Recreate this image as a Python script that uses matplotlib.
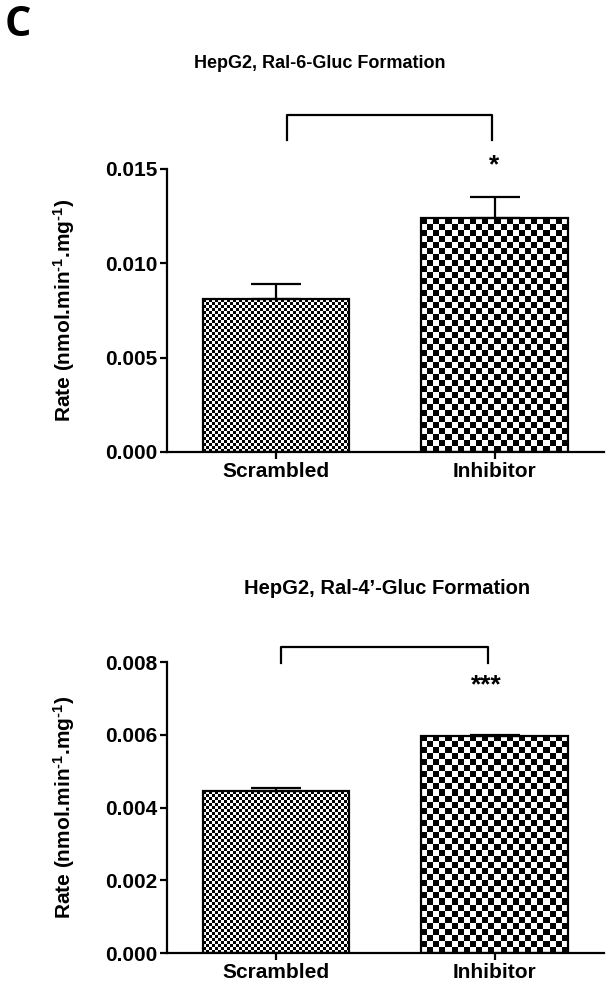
import numpy as np
import matplotlib
matplotlib.use('Agg')
import matplotlib.pyplot as plt

plt.rcParams['font.family'] = ['Liberation Sans', 'DejaVu Sans']
plt.rcParams['font.weight'] = 'bold'
plt.rcParams['mathtext.fontset'] = 'custom'
plt.rcParams['mathtext.rm'] = 'Liberation Sans:bold'
plt.rcParams['mathtext.bf'] = 'Liberation Sans:bold'
plt.rcParams['mathtext.default'] = 'bf'

# data
groups = ['Scrambled', 'Inhibitor']
rate6 = [0.0081, 0.0124]
err6 = [0.0008, 0.0011]
rate4 = [0.00445, 0.00597]
err4 = [0.00008, 0.00002]
titles = ['HepG2, Ral-6-Gluc Formation', 'HepG2, Ral-4\u2019-Gluc Formation']
stars = ['*', '***']
star_x = [1.0, 0.96]
star_y = [0.0152, 0.00735]
bracket_x = [[0.05, 0.05, 0.99, 0.99], [0.02, 0.02, 0.97, 0.97]]
bracket_y = [[0.01654, 0.01786, 0.01786, 0.01654], [0.00797, 0.00841, 0.00841, 0.00797]]
yticks = [[0, 0.005, 0.010, 0.015], [0, 0.002, 0.004, 0.006, 0.008]]
ylims = [0.015, 0.008]
ylabel = 'Rate (nmol.min$^{\u20101}$.mg$^{\u20101}$)'

DPI = 100
fig = plt.figure(figsize=(6.1, 9.92), dpi=DPI)
ax_top = fig.add_axes([0.2738, 0.5444, 0.716, 0.2853])
ax_bot = fig.add_axes([0.2738, 0.0393, 0.716, 0.2933])

width = 0.67
cells = [3, 6]  # checker cell size in px for each bar


def checker_bar(ax, x, h, cell, ymax):
    bar = ax.bar(x, h, width, facecolor='none', edgecolor='black', lw=1.6, zorder=3)[0]
    box = ax.get_position()
    px_w = box.width * fig.get_figwidth() * DPI / 2.0 * width
    px_h = box.height * fig.get_figheight() * DPI / ymax * h
    nx = max(1, int(round(px_w / cell)))
    ny = max(1, int(round(px_h / cell)))
    board = np.add.outer(np.arange(ny), np.arange(nx)) % 2
    im = ax.imshow(board, cmap='gray', extent=(x - width / 2, x + width / 2, 0, h),
                   aspect='auto', interpolation='nearest', zorder=2)
    im.set_clip_path(bar)


for i, (ax, vals, errs) in enumerate([(ax_top, rate6, err6), (ax_bot, rate4, err4)]):
    ymax = ylims[i]
    for j in range(2):
        checker_bar(ax, j, vals[j], cells[j], ymax)
    ax.errorbar([0, 1], vals, yerr=[[0, 0], errs], fmt='none', ecolor='black',
                elinewidth=1.6, capsize=18, capthick=1.6, zorder=4)
    ax.set_xlim(-0.5, 1.5)
    ax.set_ylim(0, ymax)
    ax.set_xticks([0, 1])
    ax.set_xticklabels(groups, fontsize=15, fontweight='bold')
    ax.set_yticks(yticks[i])
    ax.set_yticklabels(['%.3f' % t for t in yticks[i]], fontsize=15, fontweight='bold')
    ax.tick_params(direction='out', length=5, width=1.6, pad=2)
    for s in ['top', 'right']:
        ax.spines[s].set_visible(False)
    for s in ['left', 'bottom']:
        ax.spines[s].set_linewidth(1.6)
    ax.set_ylabel(ylabel, fontsize=15, fontweight='bold')
    ax.yaxis.set_label_coords(-0.205, 0.5)
    ax.plot(bracket_x[i], bracket_y[i], color='black', lw=1.6, clip_on=False)
    ax.text(star_x[i], star_y[i], stars[i], ha='center', va='center', fontsize=19,
            fontweight='bold')

fig.text(320 / 610, 1 - 63 / 992, titles[0], ha='center', va='center', fontsize=13, fontweight='bold')
fig.text(387 / 610, 1 - 588 / 992, titles[1], ha='center', va='center', fontsize=14.5, fontweight='bold')
fig.text(0.008, 1 - 26 / 992, 'C', ha='left', va='center', fontsize=30, fontweight='bold',
         family=['Open Sans', 'DejaVu Sans'])

fig.savefig('out.png', dpi=DPI)
